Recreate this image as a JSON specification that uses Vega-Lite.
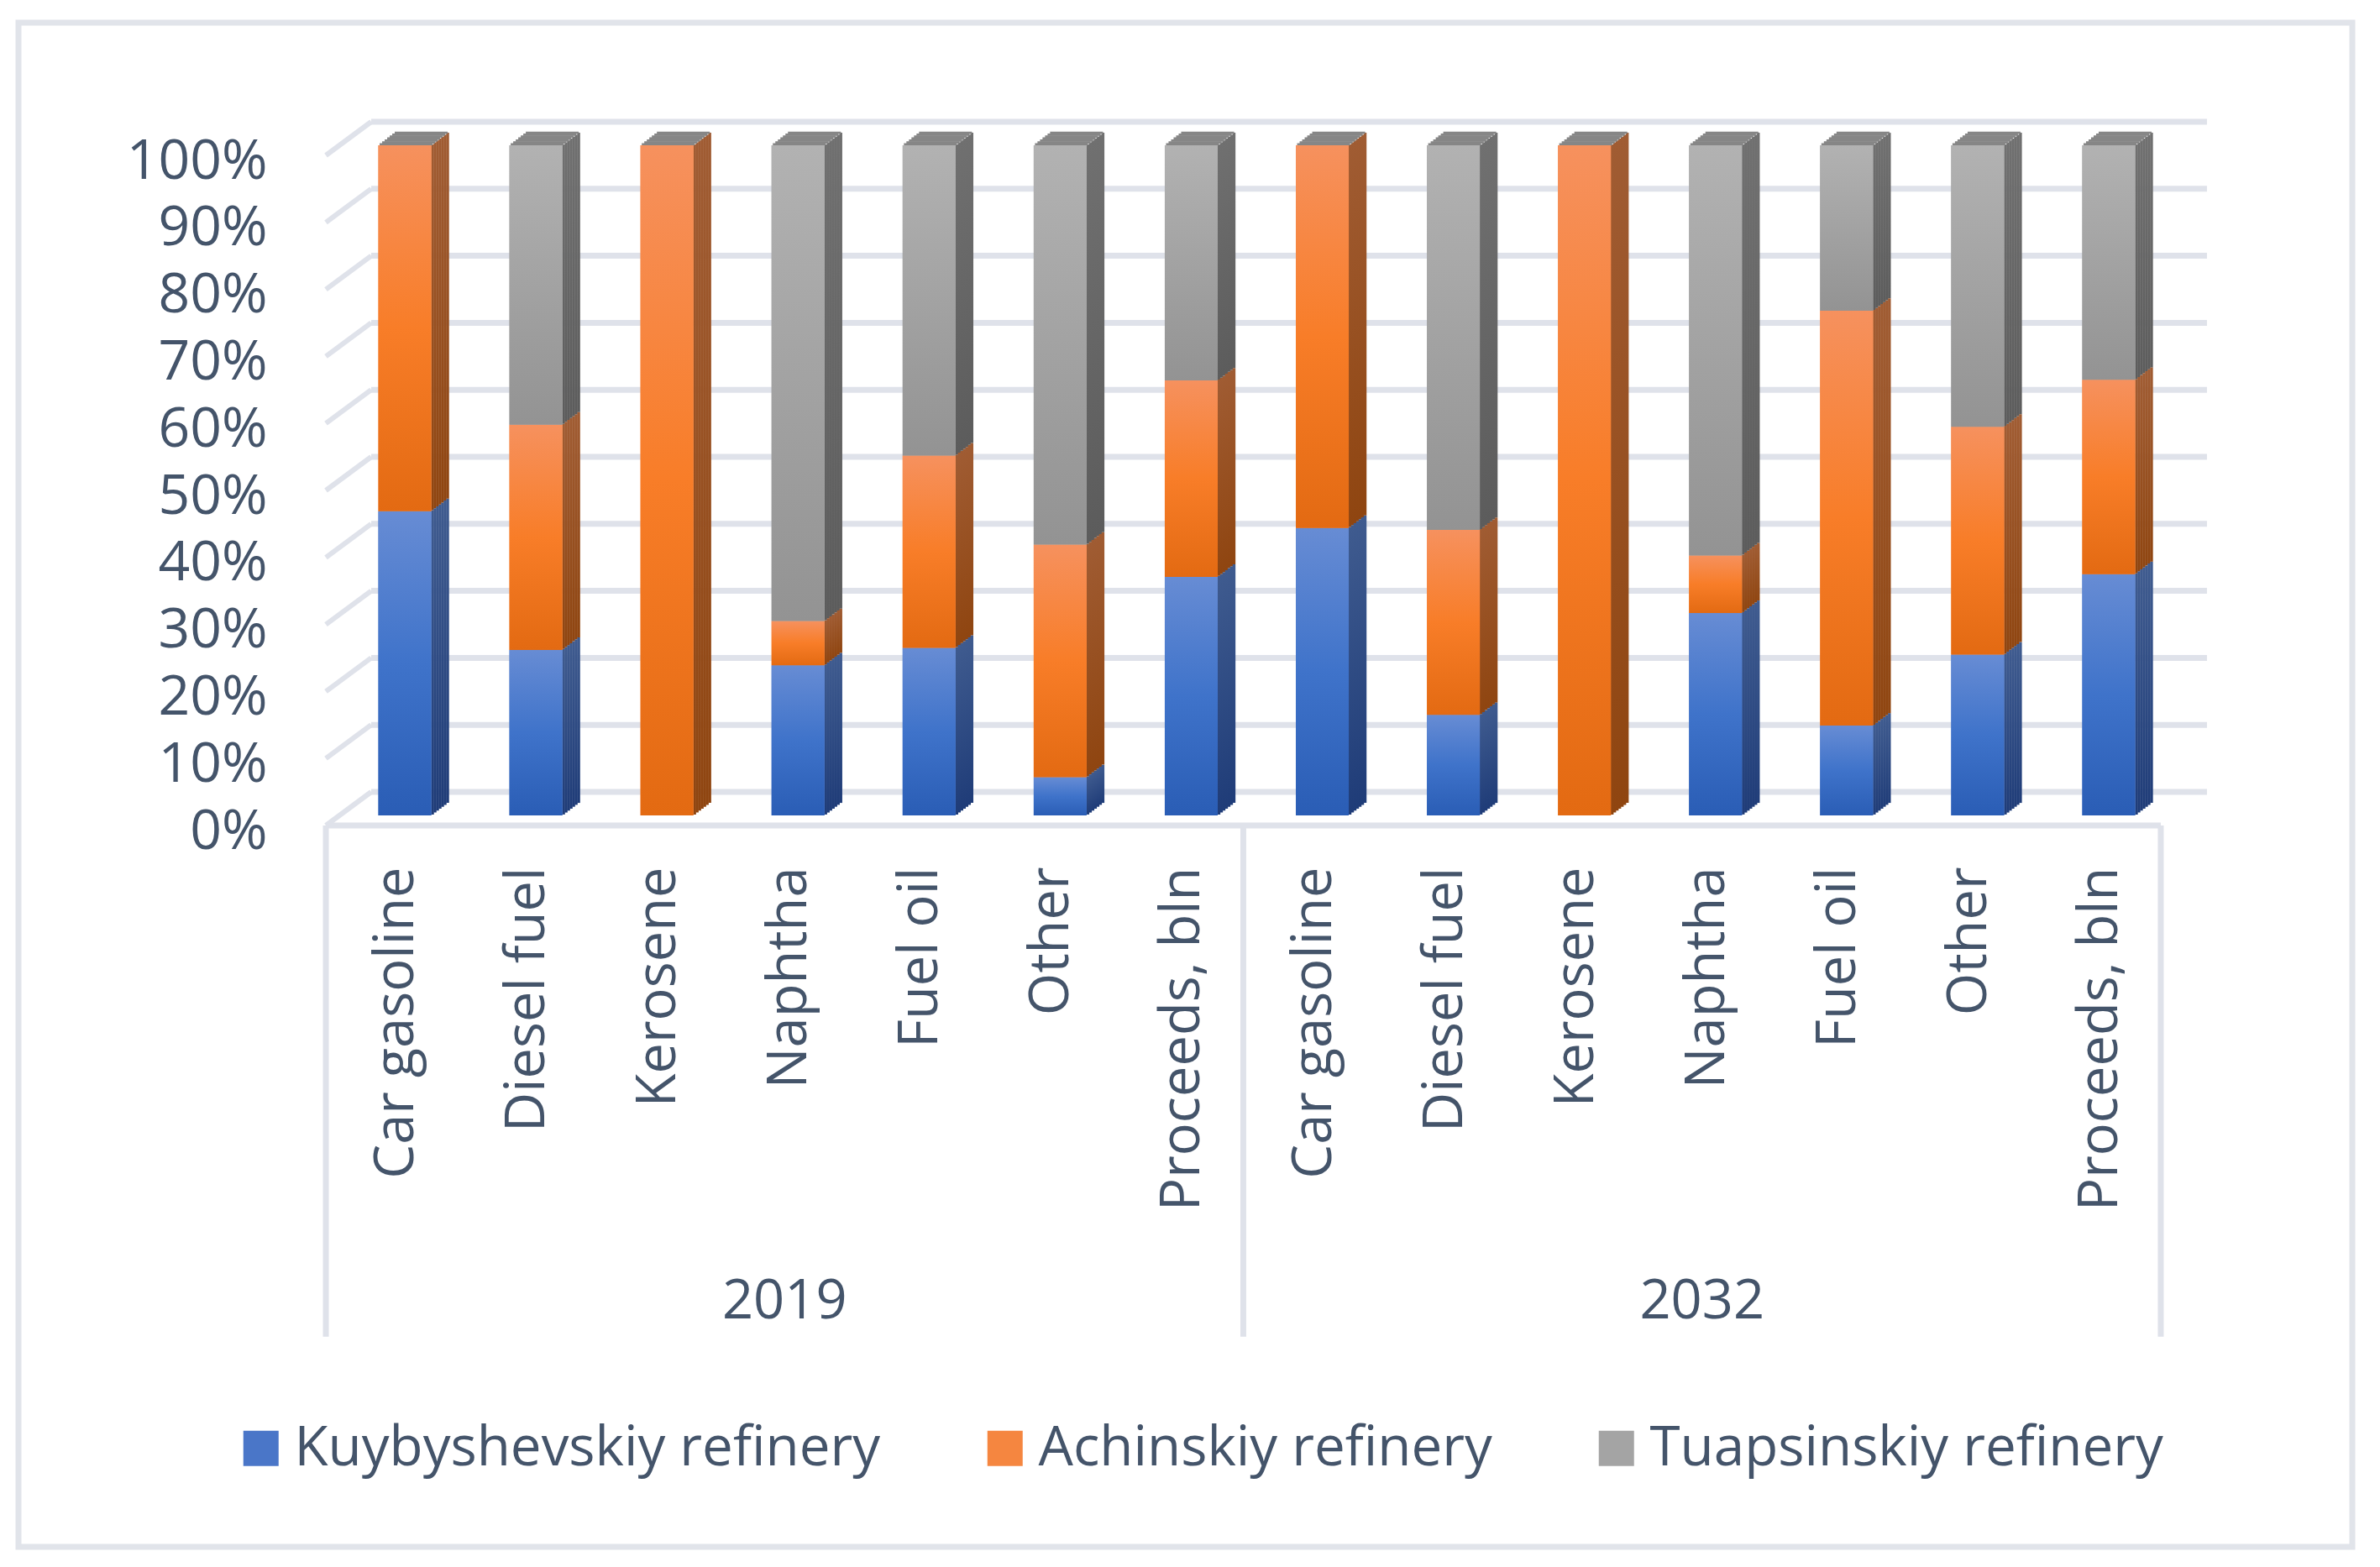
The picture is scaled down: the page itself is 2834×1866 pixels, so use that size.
{"$schema":"https://vega.github.io/schema/vega-lite/v6.json","width":2779,"height":1815,"autosize":"none","padding":{"left":22,"top":27,"right":33,"bottom":24},"background":"white","config":{"view":{"stroke":"#e1e4ea","strokeWidth":7,"fill":"white"},"font":"Open Sans"},
"datasets":{"bars":[
{"k":"2019 Car gasoline","r":"Kuybyshevskiy refinery","o":1,"v":45.4},{"k":"2019 Car gasoline","r":"Achinskiy refinery","o":2,"v":54.6},{"k":"2019 Car gasoline","r":"Tuapsinskiy refinery","o":3,"v":0},
{"k":"2019 Diesel fuel","r":"Kuybyshevskiy refinery","o":1,"v":24.7},{"k":"2019 Diesel fuel","r":"Achinskiy refinery","o":2,"v":33.6},{"k":"2019 Diesel fuel","r":"Tuapsinskiy refinery","o":3,"v":41.7},
{"k":"2019 Kerosene","r":"Kuybyshevskiy refinery","o":1,"v":0},{"k":"2019 Kerosene","r":"Achinskiy refinery","o":2,"v":100},{"k":"2019 Kerosene","r":"Tuapsinskiy refinery","o":3,"v":0},
{"k":"2019 Naphtha","r":"Kuybyshevskiy refinery","o":1,"v":22.4},{"k":"2019 Naphtha","r":"Achinskiy refinery","o":2,"v":6.6},{"k":"2019 Naphtha","r":"Tuapsinskiy refinery","o":3,"v":71},
{"k":"2019 Fuel oil","r":"Kuybyshevskiy refinery","o":1,"v":25},{"k":"2019 Fuel oil","r":"Achinskiy refinery","o":2,"v":28.7},{"k":"2019 Fuel oil","r":"Tuapsinskiy refinery","o":3,"v":46.3},
{"k":"2019 Other","r":"Kuybyshevskiy refinery","o":1,"v":5.7},{"k":"2019 Other","r":"Achinskiy refinery","o":2,"v":34.7},{"k":"2019 Other","r":"Tuapsinskiy refinery","o":3,"v":59.6},
{"k":"2019 Proceeds, bln","r":"Kuybyshevskiy refinery","o":1,"v":35.6},{"k":"2019 Proceeds, bln","r":"Achinskiy refinery","o":2,"v":29.3},{"k":"2019 Proceeds, bln","r":"Tuapsinskiy refinery","o":3,"v":35.1},
{"k":"2032 Car gasoline","r":"Kuybyshevskiy refinery","o":1,"v":42.9},{"k":"2032 Car gasoline","r":"Achinskiy refinery","o":2,"v":57.1},{"k":"2032 Car gasoline","r":"Tuapsinskiy refinery","o":3,"v":0},
{"k":"2032 Diesel fuel","r":"Kuybyshevskiy refinery","o":1,"v":15},{"k":"2032 Diesel fuel","r":"Achinskiy refinery","o":2,"v":27.6},{"k":"2032 Diesel fuel","r":"Tuapsinskiy refinery","o":3,"v":57.4},
{"k":"2032 Kerosene","r":"Kuybyshevskiy refinery","o":1,"v":0},{"k":"2032 Kerosene","r":"Achinskiy refinery","o":2,"v":100},{"k":"2032 Kerosene","r":"Tuapsinskiy refinery","o":3,"v":0},
{"k":"2032 Naphtha","r":"Kuybyshevskiy refinery","o":1,"v":30.2},{"k":"2032 Naphtha","r":"Achinskiy refinery","o":2,"v":8.6},{"k":"2032 Naphtha","r":"Tuapsinskiy refinery","o":3,"v":61.2},
{"k":"2032 Fuel oil","r":"Kuybyshevskiy refinery","o":1,"v":13.4},{"k":"2032 Fuel oil","r":"Achinskiy refinery","o":2,"v":61.9},{"k":"2032 Fuel oil","r":"Tuapsinskiy refinery","o":3,"v":24.7},
{"k":"2032 Other","r":"Kuybyshevskiy refinery","o":1,"v":24},{"k":"2032 Other","r":"Achinskiy refinery","o":2,"v":34},{"k":"2032 Other","r":"Tuapsinskiy refinery","o":3,"v":42},
{"k":"2032 Proceeds, bln","r":"Kuybyshevskiy refinery","o":1,"v":36},{"k":"2032 Proceeds, bln","r":"Achinskiy refinery","o":2,"v":29},{"k":"2032 Proceeds, bln","r":"Tuapsinskiy refinery","o":3,"v":35}
],
"grid":[{"v":0,"a":"2019 Car gasoline","b":"2032 Proceeds, bln"},{"v":10,"a":"2019 Car gasoline","b":"2032 Proceeds, bln"},{"v":20,"a":"2019 Car gasoline","b":"2032 Proceeds, bln"},{"v":30,"a":"2019 Car gasoline","b":"2032 Proceeds, bln"},{"v":40,"a":"2019 Car gasoline","b":"2032 Proceeds, bln"},{"v":50,"a":"2019 Car gasoline","b":"2032 Proceeds, bln"},{"v":60,"a":"2019 Car gasoline","b":"2032 Proceeds, bln"},{"v":70,"a":"2019 Car gasoline","b":"2032 Proceeds, bln"},{"v":80,"a":"2019 Car gasoline","b":"2032 Proceeds, bln"},{"v":90,"a":"2019 Car gasoline","b":"2032 Proceeds, bln"},{"v":100,"a":"2019 Car gasoline","b":"2032 Proceeds, bln"}],
"years":[{"k":"2019 Naphtha","t":"2019","v":-71},{"k":"2032 Naphtha","t":"2032","v":-71}]},
"encoding":{
"x":{"field":"k","type":"nominal","title":null,"sort":null,"scale":{"type":"band","domain":["2019 Car gasoline","2019 Diesel fuel","2019 Kerosene","2019 Naphtha","2019 Fuel oil","2019 Other","2019 Proceeds, bln","2032 Car gasoline","2032 Diesel fuel","2032 Kerosene","2032 Naphtha","2032 Fuel oil","2032 Other","2032 Proceeds, bln"],"range":[366,2551],"paddingInner":0,"paddingOuter":0},"axis":{"orient":"bottom","offset":-859,"domain":false,"ticks":false,"grid":false,"labelAngle":270,"labelAlign":"right","labelBaseline":"middle","labelPadding":49,"labelOffset":6,"labelFontSize":65,"labelColor":"#44546a","labelFont":"Open Sans","labelLimit":800,"labelOverlap":false,"labelExpr":"slice(datum.label,5)"}},
"y":{"field":"v","type":"quantitative","title":null,"scale":{"domain":[0,100],"range":[956,158],"nice":false,"zero":false},"axis":{"orient":"left","offset":-366,"domain":false,"ticks":false,"grid":false,"values":[0,10,20,30,40,50,60,70,80,90,100],"labelExpr":"datum.value+'%'","labelPadding":70,"labelOffset":7,"labelFontSize":66,"labelColor":"#44546a","labelFont":"Open Sans","labelOverlap":false,"labelFlush":false}}},
"layer":[
{"data":{"name":"grid"},"mark":{"type":"rule","color":"#dfe2ea","strokeWidth":7,"xOffset":-24,"x2Offset":133,"yOffset":-40,"y2Offset":-40},"encoding":{"x":{"field":"a","type":"nominal"},"x2":{"field":"b"},"y2":{"field":"v"}}},
{"data":{"name":"grid"},"mark":{"type":"rule","color":"#dfe2ea","strokeWidth":6,"xOffset":-78,"x2Offset":-24,"yOffset":0,"y2Offset":-40},"encoding":{"x":{"field":"a","type":"nominal"},"x2":{"field":"a"},"y2":{"field":"v"}}},
{"data":{"values":[{"a":"2019 Car gasoline","b":"2032 Proceeds, bln","v":0}]},"mark":{"type":"rule","color":"#dfe2ea","strokeWidth":7,"xOffset":-78,"x2Offset":78},"encoding":{"x":{"field":"a","type":"nominal"},"x2":{"field":"b"},"y2":{"field":"v"}}},
{"data":{"values":[{"a":"2019 Car gasoline","v":0,"w":-76.3}]},"mark":{"type":"rule","color":"#dfe2ea","strokeWidth":7,"xOffset":-78,"x2Offset":-78},"encoding":{"x":{"field":"a","type":"nominal"},"x2":{"field":"a"},"y2":{"field":"w"}}},
{"data":{"values":[{"a":"2019 Proceeds, bln","v":0,"w":-76.3}]},"mark":{"type":"rule","color":"#dfe2ea","strokeWidth":7,"xOffset":78,"x2Offset":78},"encoding":{"x":{"field":"a","type":"nominal"},"x2":{"field":"a"},"y2":{"field":"w"}}},
{"data":{"values":[{"a":"2032 Proceeds, bln","v":0,"w":-76.3}]},"mark":{"type":"rule","color":"#dfe2ea","strokeWidth":7,"xOffset":78,"x2Offset":78},"encoding":{"x":{"field":"a","type":"nominal"},"x2":{"field":"a"},"y2":{"field":"w"}}},
{"data":{"name":"bars"},"encoding":{"detail":{"field":"r"},"fill":{"condition":[{"test":"datum.o==1","value":{"gradient":"linear","x1":0,"y1":0,"x2":0,"y2":1,"stops":[{"offset":0,"color":"#3f5b8f"},{"offset":1,"color":"#1f3c78"}]}},{"test":"datum.o==2","value":{"gradient":"linear","x1":0,"y1":0,"x2":0,"y2":1,"stops":[{"offset":0,"color":"#a05c33"},{"offset":1,"color":"#8f4510"}]}}],"value":{"gradient":"linear","x1":0,"y1":0,"x2":0,"y2":1,"stops":[{"offset":0,"color":"#707070"},{"offset":1,"color":"#5c5c5c"}]}},"order":{"field":"o"}},
"layer":[
{"mark":{"type":"bar","size":3.4,"xOffset":49,"yOffset":-13.1,"y2Offset":-13.1}},
{"mark":{"type":"bar","size":3.4,"xOffset":52,"yOffset":-15.4,"y2Offset":-15.4}},
{"mark":{"type":"bar","size":3.4,"xOffset":55,"yOffset":-17.7,"y2Offset":-17.7}},
{"mark":{"type":"bar","size":3.4,"xOffset":58,"yOffset":-20,"y2Offset":-20}},
{"mark":{"type":"bar","size":3.4,"xOffset":61,"yOffset":-22.3,"y2Offset":-22.3}},
{"mark":{"type":"bar","size":3.4,"xOffset":64,"yOffset":-24.6,"y2Offset":-24.6}},
{"mark":{"type":"bar","size":3.4,"xOffset":67,"yOffset":-26.9,"y2Offset":-26.9}}
]},
{"data":{"name":"bars"},"transform":[{"filter":"datum.o==3"}],"encoding":{"x2":{"field":"k"},"y":{"datum":100},"y2":{"datum":100}},
"layer":[
{"mark":{"type":"rule","color":"#868686","strokeWidth":2.8,"xOffset":-14,"x2Offset":49,"yOffset":-13.1,"y2Offset":-13.1}},
{"mark":{"type":"rule","color":"#868686","strokeWidth":2.8,"xOffset":-11,"x2Offset":52,"yOffset":-15.4,"y2Offset":-15.4}},
{"mark":{"type":"rule","color":"#868686","strokeWidth":2.8,"xOffset":-8,"x2Offset":55,"yOffset":-17.7,"y2Offset":-17.7}},
{"mark":{"type":"rule","color":"#868686","strokeWidth":2.8,"xOffset":-5,"x2Offset":58,"yOffset":-20,"y2Offset":-20}},
{"mark":{"type":"rule","color":"#868686","strokeWidth":2.8,"xOffset":-2,"x2Offset":61,"yOffset":-22.3,"y2Offset":-22.3}},
{"mark":{"type":"rule","color":"#868686","strokeWidth":2.8,"xOffset":1,"x2Offset":64,"yOffset":-24.6,"y2Offset":-24.6}},
{"mark":{"type":"rule","color":"#868686","strokeWidth":2.8,"xOffset":4,"x2Offset":67,"yOffset":-26.9,"y2Offset":-26.9}}
]},
{"data":{"name":"bars"},"mark":{"type":"bar","size":63,"xOffset":16,"yOffset":-12,"y2Offset":-12},"encoding":{"order":{"field":"o"},"color":{"field":"r","type":"nominal","scale":{"domain":["Kuybyshevskiy refinery","Achinskiy refinery","Tuapsinskiy refinery"],"range":["#4a76c8","#f58640","#a4a4a4"]},"legend":{"orient":"none","legendX":256,"legendY":1665,"direction":"horizontal","columns":3,"title":null,"gridAlign":"none","columnPadding":115,"symbolType":"square","symbolSize":1764,"symbolStrokeWidth":0,"labelOffset":7,"labelFontSize":65.5,"labelFont":"Open Sans","labelColor":"#44546a","labelLimit":900}}}},
{"data":{"name":"bars"},"mark":{"type":"bar","size":63,"xOffset":16,"yOffset":-12,"y2Offset":-12},"encoding":{"order":{"field":"o"},"detail":{"field":"r"},"fill":{"condition":[{"test":"datum.o==1","value":{"gradient":"linear","x1":0,"y1":0,"x2":0,"y2":1,"stops":[{"offset":0,"color":"#678cd4"},{"offset":0.5,"color":"#3f73ca"},{"offset":1,"color":"#2a5db5"}]}},{"test":"datum.o==2","value":{"gradient":"linear","x1":0,"y1":0,"x2":0,"y2":1,"stops":[{"offset":0,"color":"#f6915e"},{"offset":0.5,"color":"#f87d28"},{"offset":1,"color":"#e36a12"}]}}],"value":{"gradient":"linear","x1":0,"y1":0,"x2":0,"y2":1,"stops":[{"offset":0,"color":"#b2b2b2"},{"offset":1,"color":"#939393"}]}}}},
{"data":{"name":"years"},"mark":{"type":"text","fontSize":65,"font":"Open Sans","color":"#44546a","align":"center","baseline":"middle"},"encoding":{"text":{"field":"t"}}}
]}
